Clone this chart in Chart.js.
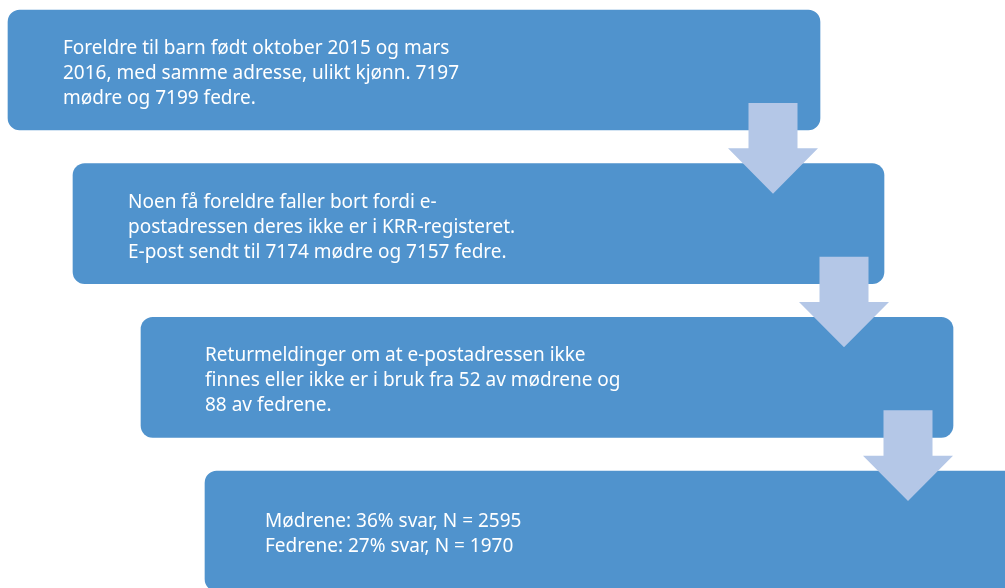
<!DOCTYPE html>
<html>
<head>
<meta charset="utf-8">
<script src="https://cdn.jsdelivr.net/npm/chart.js@4"></script>
<style>
  body { margin: 0; background: #fff; }
  #wrap { width: 1005px; height: 588px; position: relative; }
</style>
</head>
<body>
<div id="wrap"><canvas id="myChart"></canvas></div>
<script>
// steps of the flow, top to bottom
var steps = [0, 1, 2, 3];
var boxStart = [8, 73, 141, 205];
var boxEnd = [820, 884, 953, 1030];
var boxText = [
  ["Foreldre til barn født oktober 2015 og mars",
   "2016, med samme adresse, ulikt kjønn. 7197",
   "mødre og 7199 fedre."],
  ["Noen få foreldre faller bort fordi e-",
   "postadressen deres ikke er i KRR-registeret.",
   "E-post sendt til 7174 mødre og 7157 fedre."],
  ["Returmeldinger om at e-postadressen ikke",
   "finnes eller ikke er i bruk fra 52 av mødrene og",
   "88 av fedrene."],
  ["Mødrene: 36% svar, N = 2595",
   "Fedrene: 27% svar, N = 1970"]
];
var textIndent = [55, 55, 64, 60];
// arrows go from step i down to step i+1
var arrowFrom = [0, 1, 2];
var arrowX = [773, 844, 908];

var boxColor = "#5093cd";
var arrowColor = "#b4c7e7";

var arrowPlugin = {
  id: "arrows",
  afterDatasetsDraw: function (chart) {
    var ctx = chart.ctx;
    var xs = chart.scales.x, ys = chart.scales.y;
    ctx.save();
    ctx.fillStyle = arrowColor;
    for (var i = 0; i < arrowFrom.length; i++) {
      var s = arrowFrom[i];
      var cx = xs.getPixelForValue(arrowX[i]);
      var top = ys.getPixelForValue(s + 0.215);
      var base = ys.getPixelForValue(s + 0.51);
      var tip = ys.getPixelForValue(s + 0.805);
      var sh = 24.5, hh = 45;
      ctx.beginPath();
      ctx.moveTo(cx - sh, top);
      ctx.lineTo(cx + sh, top);
      ctx.lineTo(cx + sh, base);
      ctx.lineTo(cx + hh, base);
      ctx.lineTo(cx, tip);
      ctx.lineTo(cx - hh, base);
      ctx.lineTo(cx - sh, base);
      ctx.closePath();
      ctx.fill();
    }
    ctx.restore();
  }
};

var textPlugin = {
  id: "boxText",
  afterDraw: function (chart) {
    var ctx = chart.ctx;
    var xs = chart.scales.x, ys = chart.scales.y;
    ctx.save();
    ctx.fillStyle = "#ffffff";
    ctx.font = "19px 'Noto Sans'";
    ctx.textBaseline = "alphabetic";
    ctx.textAlign = "left";
    for (var i = 0; i < steps.length; i++) {
      var lines = boxText[i];
      var x = xs.getPixelForValue(boxStart[i] + textIndent[i]);
      var cy = ys.getPixelForValue(steps[i]) + 9;
      for (var j = 0; j < lines.length; j++) {
        ctx.fillText(lines[j], x, cy + (j - (lines.length - 1) / 2) * 25);
      }
    }
    ctx.restore();
  }
};

var datosChart = {
  datasets: [
    {
      label: "steg",
      data: steps.map(function (s, i) {
        return { y: s, x: [boxStart[i], boxEnd[i]] };
      }),
      backgroundColor: boxColor,
      borderWidth: 0,
      borderRadius: 12,
      borderSkipped: false,
      barThickness: 120,
    },
  ],
};

var ctx = document.getElementById("myChart").getContext("2d");
new Chart(ctx, {
  type: "bar",
  data: datosChart,
  options: {
    indexAxis: "y",
    responsive: true,
    maintainAspectRatio: false,
    animation: false,
    layout: { padding: 0 },
    plugins: { legend: { display: false }, tooltip: { enabled: false } },
    scales: {
      x: { type: "linear", min: 0, max: 1005, bounds: "data", offset: false, display: false },
      y: { type: "linear", min: -0.4555, max: 3.371, bounds: "data", offset: false, reverse: true, display: false },
    },
  },
  plugins: [arrowPlugin, textPlugin],
});
</script>
</body>
</html>
